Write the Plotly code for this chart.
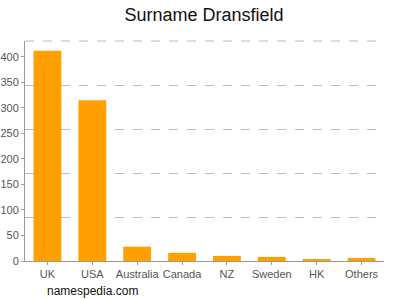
import plotly.graph_objects as go

categories = ["UK", "USA", "Australia", "Canada", "NZ", "Sweden", "HK", "Others"]
counts = [412, 315, 28, 16, 10, 8, 3, 6]
y_ticks = [0, 50, 100, 150, 200, 250, 300, 350, 400]
y_max = 431

fig = go.Figure()
fig.add_trace(go.Bar(x=categories, y=counts, marker=dict(color="#FFA000", line=dict(width=0)),
                     hoverinfo="x+y"))
# invisible trace on overlay axis for the dashed grid (5 equal divisions)
fig.add_trace(go.Scatter(x=categories, y=[None]*len(categories), yaxis="y2",
                         mode="markers", showlegend=False, hoverinfo="skip"))

fig.update_layout(
    width=400, height=300,
    margin=dict(l=25, r=16, t=41, b=39, autoexpand=False),
    paper_bgcolor="white", plot_bgcolor="white",
    showlegend=False,
    bargap=0.38,
    title=dict(text="Surname Dransfield", x=0.51, xanchor="center", y=0.95, yanchor="middle",
               font=dict(family="Liberation Sans, Arial, sans-serif", size=18, color="#111")),
    font=dict(family="Liberation Sans, Arial, sans-serif", size=11, color="#555"),
    xaxis=dict(showline=True, linecolor="#999", linewidth=1, ticks="outside", ticklen=3,
               tickcolor="#999", showgrid=False, tickangle=0, automargin=False,
               tickfont=dict(size=11, color="#555")),
    yaxis=dict(range=[0, y_max], tickvals=y_ticks, showgrid=False, showline=True,
               linecolor="#999", linewidth=1, ticks="outside", ticklen=3, tickcolor="#999",
               zeroline=False, automargin=False, tickfont=dict(size=11, color="#555")),
    yaxis2=dict(range=[0, y_max], overlaying="y", dtick=y_max / 5, tick0=0, showgrid=True,
                gridcolor="#bbb", griddash="dash", gridwidth=1, showticklabels=False,
                zeroline=False, showline=False, ticks="", automargin=False),
    shapes=[dict(type="line", xref="paper", yref="paper", x0=0, x1=1, y0=1, y1=1,
                 layer="below", line=dict(color="#bbb", width=1, dash="dash"))],
    annotations=[dict(text="namespedia.com", xref="paper", yref="paper", x=0.055, y=-0.136,
                      xanchor="left", yanchor="middle", showarrow=False,
                      font=dict(family="Liberation Sans, Arial, sans-serif", size=12, color="#111"))],
)
fig.write_html("out.html")
